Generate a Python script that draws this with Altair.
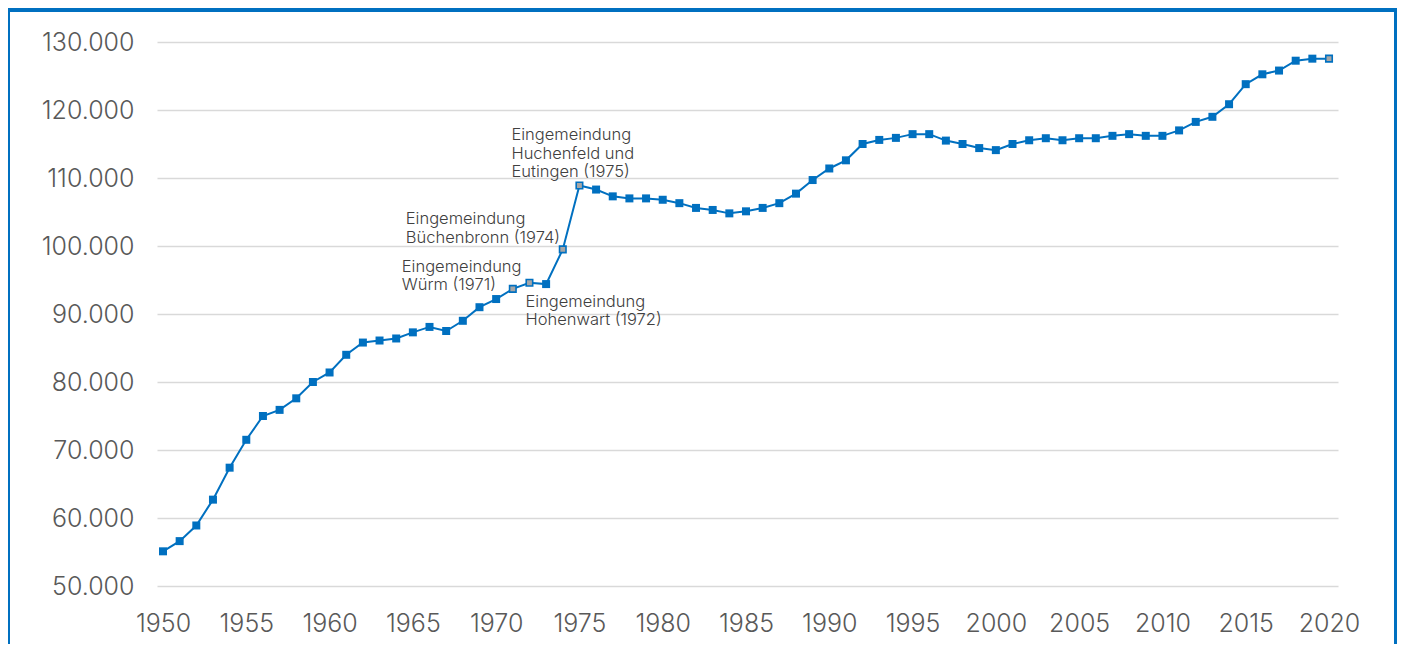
import altair as alt
import pandas as pd

years = list(range(1950, 2021))
population = [
    55100, 56600, 58900, 62700, 67400, 71500, 75000, 75900, 77600, 80000,
    81400, 84000, 85800, 86100, 86400, 87300, 88100, 87500, 89000, 91000,
    92200, 93700, 94600, 94400, 99500, 108900, 108300, 107300, 107000, 107000,
    106800, 106300, 105600, 105300, 104800, 105100, 105600, 106300, 107700, 109700,
    111400, 112600, 115000, 115600, 115900, 116450, 116450, 115500, 115000, 114400,
    114100, 115000, 115550, 115850, 115550, 115850, 115850, 116200, 116450, 116200,
    116200, 117000, 118250, 119000, 120850, 123800, 125250, 125800, 127250, 127550,
    127550,
]
highlight_years = [1971, 1972, 1974, 1975, 2020]

annot_years = [1975, 1974, 1971, 1972]
annot_texts = [
    "Eingemeindung\nHuchenfeld und\nEutingen (1975)",
    "Eingemeindung\nBüchenbronn (1974)",
    "Eingemeindung\nWürm (1971)",
    "Eingemeindung\nHohenwart (1972)",
]
annot_dx = [-68, -157, -111, -4]
annot_dy = [-45, -25, -17, 24]

y_ticks = list(range(50000, 130001, 10000))
x_ticks = list(range(1950, 2021, 5))

BLUE = "#0070C0"
GREY = "#A6A6A6"
FONT = "Inter"

df = pd.DataFrame({"Jahr": years, "Einwohner": population})
df["hl"] = df["Jahr"].isin(highlight_years)

x_enc = alt.X(
    "Jahr:Q",
    scale=alt.Scale(domain=[1949.64, 2020.54], nice=False, zero=False),
    axis=alt.Axis(
        values=x_ticks, format="d", title=None, grid=False, domain=False,
        ticks=False, labelFontSize=25, labelColor="#595959", labelFont=FONT,
        labelFontWeight=300, labelPadding=25, labelFlush=False,
        labelOverlap=False,
    ),
)
y_enc = alt.Y(
    "Einwohner:Q",
    scale=alt.Scale(domain=[50000, 130000], nice=False, zero=False),
    axis=alt.Axis(
        values=y_ticks, title=None, domain=False, ticks=False,
        labelExpr="replace(format(datum.value, ','), ',', '.')",
        gridColor="#D9D9D9", gridWidth=1.5, labelFontSize=25,
        labelColor="#595959", labelFont=FONT, labelFontWeight=300,
        labelPadding=23, labelFlush=False, labelOverlap=False,
    ),
)

base = alt.Chart(df)

line = base.mark_line(color=BLUE, strokeWidth=2).encode(x=x_enc, y=y_enc)
pts = base.transform_filter("!datum.hl").mark_square(
    size=64, color=BLUE, opacity=1
).encode(x="Jahr:Q", y="Einwohner:Q")
pts_hl = base.transform_filter("datum.hl").mark_square(
    size=42, filled=True, fill=GREY, stroke=BLUE, strokeWidth=1.6, opacity=1
).encode(x="Jahr:Q", y="Einwohner:Q")

frame_data = alt.Data(values=[{"k": 1}])
top_bar = alt.Chart(frame_data).mark_rect(color=BLUE).encode(
    x=alt.value(-149), x2=alt.value(1240), y=alt.value(-34), y2=alt.value(-30)
)
left_border = alt.Chart(frame_data).mark_rule(color=BLUE, strokeWidth=2).encode(
    x=alt.value(-148), y=alt.value(-34), y2=alt.value(620)
)
right_border = alt.Chart(frame_data).mark_rule(color=BLUE, strokeWidth=3).encode(
    x=alt.value(1238.5), y=alt.value(-34), y2=alt.value(620)
)

texts = []
for yr, txt, dx, dy in zip(annot_years, annot_texts, annot_dx, annot_dy):
    val = population[years.index(yr)]
    tdf = pd.DataFrame({"Jahr": [yr], "Einwohner": [val], "label": [txt]})
    texts.append(
        alt.Chart(tdf).mark_text(
            align="left", baseline="alphabetic", dx=dx, dy=dy,
            fontSize=16.5, font=FONT, fontWeight=300, color="#404040",
            lineBreak="\n", lineHeight=18.3,
        ).encode(x="Jahr:Q", y="Einwohner:Q", text="label:N")
    )

chart = alt.layer(
    line, pts, pts_hl, *texts, top_bar, left_border, right_border
).properties(
    width=1181, height=544,
    autosize=alt.AutoSizeParams(type="none"),
    padding={"left": 149, "top": 34, "right": 59, "bottom": 58},
).configure_view(stroke=None)

chart.save("out.html", embed_options={"renderer": "svg", "actions": False})
